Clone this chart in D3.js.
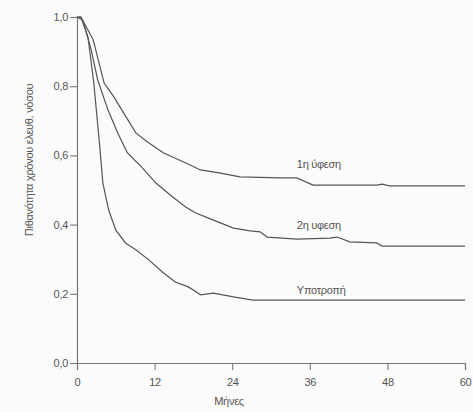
<!DOCTYPE html>
<html>
<head>
<meta charset="utf-8">
<script src="https://cdn.jsdelivr.net/npm/d3@7"></script>
<style>
  body { margin: 0; background: #fbfbfb; }
  svg { display: block; }
  text { font-family: "Liberation Sans", Arial, sans-serif; fill: #555; letter-spacing: -0.3px; }
</style>
</head>
<body>
<script>
const width = 473;
const height = 412;

// months / survival probability
const firstMonths = [0, 0.6, 2.5, 4.2, 5.7, 7.2, 9.1, 10.9, 13.4, 16.5, 19.1, 22.2, 25.2, 31.4, 34, 36.5, 46.3, 47.2, 48.3, 60];
const firstValues = [1.0, 1.0, 0.934, 0.809, 0.769, 0.723, 0.665, 0.639, 0.607, 0.581, 0.558, 0.549, 0.538, 0.535, 0.535, 0.514, 0.514, 0.517, 0.512, 0.512];

const secondMonths = [0, 0.9, 2.2, 3.2, 4.8, 6.3, 7.8, 10.0, 12.2, 14.8, 16.8, 18.3, 21.1, 24.2, 26.8, 28.3, 29.4, 34.0, 39.1, 40.2, 42.2, 46.3, 47.2, 60];
const secondValues = [1.0, 0.991, 0.905, 0.818, 0.731, 0.665, 0.607, 0.566, 0.520, 0.480, 0.451, 0.434, 0.413, 0.390, 0.382, 0.379, 0.364, 0.358, 0.361, 0.364, 0.350, 0.347, 0.338, 0.338];

const relapseMonths = [0, 0.6, 1.7, 2.6, 3.5, 4.0, 4.9, 6.0, 7.5, 9.1, 11.1, 13.2, 15.2, 17.2, 18.0, 19.1, 21.1, 24.2, 27.2, 60];
const relapseValues = [1.0, 1.0, 0.942, 0.809, 0.630, 0.520, 0.442, 0.384, 0.347, 0.327, 0.298, 0.263, 0.234, 0.220, 0.211, 0.197, 0.202, 0.191, 0.182, 0.182];

const seriesNames = ["1η ύφεση", "2η υφεση", "Υποτροπή"];
const labelAt = [[34, 0.565], [34, 0.386], [34, 0.2]];

const xTicks = [0, 12, 24, 36, 48, 60];
const yTicks = [0, 0.2, 0.4, 0.6, 0.8, 1.0];

const svg = d3.select("body").append("svg")
    .attr("width", width)
    .attr("height", height);

const x = d3.scaleLinear().domain([0, 60]).range([77, 465]);
const y = d3.scaleLinear().domain([0, 1]).range([363, 17]);

const fmt = d3.formatLocale({decimal: ",", thousands: ".", grouping: [3], currency: ["", ""]}).format(".1f");

const yAxis = svg.append("g")
    .attr("transform", `translate(${x(0)},0)`)
    .call(d3.axisLeft(y).tickValues(yTicks).tickSize(7).tickFormat(fmt));

const xAxis = svg.append("g")
    .attr("transform", `translate(0,${y(0)})`)
    .call(d3.axisBottom(x).tickValues(xTicks).tickSize(7));

[yAxis, xAxis].forEach(g => {
    g.select(".domain").attr("stroke", "#777").attr("stroke-width", 1.2);
    g.selectAll(".tick line").attr("stroke", "#777").attr("stroke-width", 1.1);
    g.selectAll(".tick text").style("font-size", "11px").attr("fill", "#666");
});
yAxis.selectAll(".tick text").attr("x", -9);
xAxis.selectAll(".tick text").attr("y", 15);

const series = [
    firstMonths.map((m, i) => [m, firstValues[i]]),
    secondMonths.map((m, i) => [m, secondValues[i]]),
    relapseMonths.map((m, i) => [m, relapseValues[i]])
];

const line = d3.line()
    .x(d => x(d[0]))
    .y(d => y(d[1]));

svg.append("g")
    .selectAll("path")
    .data(series)
    .enter()
    .append("path")
    .attr("d", line)
    .attr("fill", "none")
    .attr("stroke", "#555")
    .attr("stroke-width", 1.2);

svg.append("g")
    .selectAll("text")
    .data(seriesNames)
    .enter()
    .append("text")
    .attr("x", (d, i) => x(labelAt[i][0]))
    .attr("y", (d, i) => y(labelAt[i][1]))
    .style("font-size", "11px")
    .text(d => d);

svg.append("text")
    .attr("x", 229)
    .attr("y", 405)
    .style("text-anchor", "middle")
    .style("font-size", "11px")
    .text("Μήνες");

svg.append("text")
    .attr("transform", "translate(33,160) rotate(-90)")
    .style("text-anchor", "middle")
    .style("font-size", "11px")
    .text("Πιθανότητα χρόνου ελευθ. νόσου");
</script>
</body>
</html>
